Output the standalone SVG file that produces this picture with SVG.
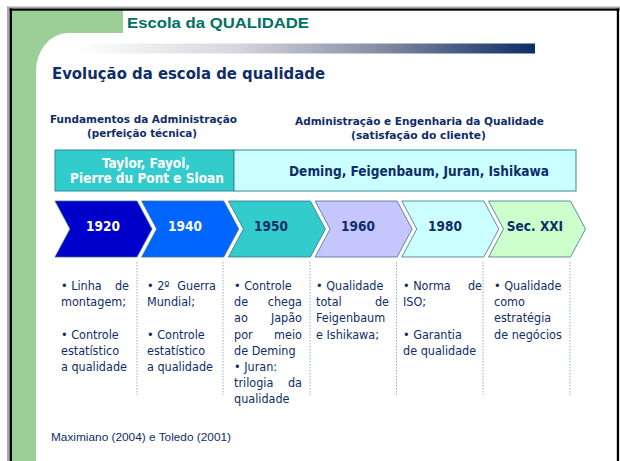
<svg xmlns="http://www.w3.org/2000/svg" width="620" height="461" viewBox="0 0 620 461">
<defs>
<linearGradient id="bar" x1="0" y1="0" x2="1" y2="0">
<stop offset="0" stop-color="#ffffff"/>
<stop offset="0.35" stop-color="#d4d7de"/>
<stop offset="0.65" stop-color="#8a8fa6"/>
<stop offset="1" stop-color="#0c2d66"/>
</linearGradient>
<style>
.navy{fill:#0f2d69}
.hdr{font-family:"DejaVu Sans Condensed","DejaVu Sans",sans-serif;font-weight:bold;font-size:11px;fill:#0f2d69;text-anchor:middle}
.band{font-family:"DejaVu Sans Condensed","DejaVu Sans",sans-serif;font-weight:bold;font-size:13.5px;text-anchor:middle}
.yr{font-family:"DejaVu Sans Condensed","DejaVu Sans",sans-serif;font-weight:bold;font-size:13.5px;text-anchor:middle}
.col{font-family:"DejaVu Sans Condensed","DejaVu Sans",sans-serif;font-size:12.5px;fill:#0f2d69}
.r{text-anchor:end}
.chev{stroke:#3d6f8f;stroke-width:0.8}
.sep{stroke:#9aabc8;stroke-width:1;stroke-dasharray:1.5 1.5}
</style>
</defs>
<rect width="620" height="461" fill="#ffffff"/>
<g id="frame">
<path d="M12,10 H123 V33 H68 A32,38 0 0 0 36,71 V461 H12 Z" fill="#9ccf97"/>
<rect x="7" y="6.5" width="613" height="2" fill="#a8a8a8"/>
<rect x="7" y="6.5" width="2" height="454.5" fill="#a8a8a8"/>
<rect x="9.5" y="8.5" width="610" height="2.2" fill="#000"/>
<rect x="9.5" y="8.5" width="2.5" height="452.5" fill="#000"/>
<rect x="616.8" y="8.5" width="2.3" height="452.5" fill="#000"/>
<rect x="75" y="43.5" width="460" height="10" fill="url(#bar)"/>
</g>
<g id="titles">
<text x="127" y="28" font-family="Liberation Sans, Arial, sans-serif" font-weight="bold" font-size="15.5" fill="#007162" textLength="182" lengthAdjust="spacingAndGlyphs">Escola da QUALIDADE</text>
<text x="52" y="79" font-family="DejaVu Sans Condensed, DejaVu Sans, sans-serif" font-weight="bold" font-size="16.5" fill="#0f2d69" textLength="273" lengthAdjust="spacingAndGlyphs">Evolução da escola de qualidade</text>
</g>
<g id="header-left">
<text class="hdr" x="143.5" y="123" textLength="187" lengthAdjust="spacingAndGlyphs">Fundamentos da Administração</text>
<text class="hdr" x="142" y="137" textLength="110" lengthAdjust="spacingAndGlyphs">(perfeição técnica)</text>
</g>
<g id="header-right">
<text class="hdr" x="419.5" y="125" textLength="249" lengthAdjust="spacingAndGlyphs">Administração e Engenharia da Qualidade</text>
<text class="hdr" x="418.5" y="139" textLength="135" lengthAdjust="spacingAndGlyphs">(satisfação do cliente)</text>
</g>
<g id="band-left">
<rect x="55" y="150" width="179" height="41" fill="#33cccc" stroke="#2d8c95" stroke-width="1"/>
<text class="band" x="146" y="168" fill="#ffffff">Taylor, Fayol,</text>
<text class="band" x="147" y="183" fill="#ffffff">Pierre du Pont e Sloan</text>
</g>
<g id="band-right">
<rect x="234" y="150" width="342" height="41" fill="#ccffff" stroke="#2d8c95" stroke-width="1"/>
<text class="band navy" x="419" y="176" textLength="260" lengthAdjust="spacingAndGlyphs">Deming, Feigenbaum, Juran, Ishikawa</text>
</g>
<g id="chevron-1920">
<polygon class="chev" points="55,201 137,201 152,229 137,257 55,257 70,229" fill="#0000cc" stroke="#00008f"/>
<text class="yr" x="103" y="231" fill="#ffffff">1920</text>
</g>
<g id="chevron-1940">
<polygon class="chev" points="141.7,201 223.7,201 238.7,229 223.7,257 141.7,257 156.7,229" fill="#0066ff"/>
<text class="yr" x="185" y="231" fill="#ffffff">1940</text>
</g>
<g id="chevron-1950">
<polygon class="chev" points="228.4,201 310.4,201 325.4,229 310.4,257 228.4,257 243.4,229" fill="#33cccc"/>
<text class="yr navy" x="271" y="231">1950</text>
</g>
<g id="chevron-1960">
<polygon class="chev" points="315.1,201 397.1,201 412.1,229 397.1,257 315.1,257 330.1,229" fill="#c6c6ff"/>
<text class="yr navy" x="358" y="231">1960</text>
</g>
<g id="chevron-1980">
<polygon class="chev" points="401.8,201 483.8,201 498.8,229 483.8,257 401.8,257 416.8,229" fill="#ccffff"/>
<text class="yr navy" x="445" y="231">1980</text>
</g>
<g id="chevron-secxxi">
<polygon class="chev" points="488.5,201 570.5,201 585.5,229 570.5,257 488.5,257 503.5,229" fill="#ccffcc"/>
<text class="yr navy" x="535" y="231">Sec. XXI</text>
</g>
<g id="separators">
<line class="sep" x1="137" y1="262" x2="137" y2="395"/>
<line class="sep" x1="223" y1="262" x2="223" y2="395"/>
<line class="sep" x1="310" y1="262" x2="310" y2="395"/>
<line class="sep" x1="396.5" y1="262" x2="396.5" y2="395"/>
<line class="sep" x1="483" y1="262" x2="483" y2="395"/>
<line class="sep" x1="570" y1="262" x2="570" y2="395"/>
</g>
<g id="col-1920" class="col">
<text x="61" y="290">• Linha</text><text class="r" x="129" y="290">de</text>
<text x="61" y="306.2">montagem;</text>
<text x="61" y="338.6">• Controle</text>
<text x="61" y="354.8">estatístico</text>
<text x="61" y="371">a qualidade</text>
</g>
<g id="col-1940" class="col">
<text x="147" y="290">• 2º</text><text class="r" x="216" y="290">Guerra</text>
<text x="147" y="306.2">Mundial;</text>
<text x="147" y="338.6">• Controle</text>
<text x="147" y="354.8">estatístico</text>
<text x="147" y="371">a qualidade</text>
</g>
<g id="col-1950" class="col">
<text x="234" y="290">• Controle</text>
<text x="234" y="306.2">de</text><text class="r" x="302" y="306.2">chega</text>
<text x="234" y="322.4">ao</text><text class="r" x="302" y="322.4">Japão</text>
<text x="234" y="338.6">por</text><text class="r" x="302" y="338.6">meio</text>
<text x="234" y="354.8">de Deming</text>
<text x="234" y="371">• Juran:</text>
<text x="234" y="387.2">trilogia</text><text class="r" x="302" y="387.2">da</text>
<text x="234" y="403.4">qualidade</text>
</g>
<g id="col-1960" class="col">
<text x="316" y="290">• Qualidade</text>
<text x="316" y="306.2">total</text><text class="r" x="389" y="306.2">de</text>
<text x="316" y="322.4">Feigenbaum</text>
<text x="316" y="338.6">e Ishikawa;</text>
</g>
<g id="col-1980" class="col">
<text x="403" y="290">• Norma</text><text class="r" x="482" y="290">de</text>
<text x="403" y="306.2">ISO;</text>
<text x="403" y="338.6">• Garantia</text>
<text x="403" y="354.8">de qualidade</text>
</g>
<g id="col-secxxi" class="col">
<text x="494" y="290">• Qualidade</text>
<text x="494" y="306.2">como</text>
<text x="494" y="322.4">estratégia</text>
<text x="494" y="338.6">de negócios</text>
</g>
<g id="footer">
<text x="51" y="441" font-family="Liberation Sans, Arial, sans-serif" font-size="11" fill="#0f2d69" textLength="180" lengthAdjust="spacingAndGlyphs">Maximiano (2004) e Toledo (2001)</text>
</g>
</svg>
